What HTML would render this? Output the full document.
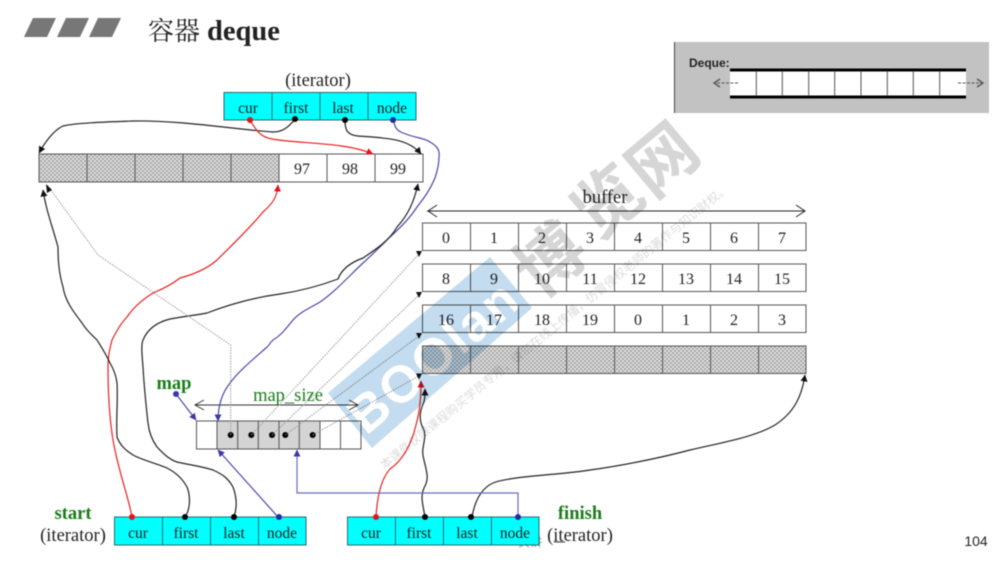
<!DOCTYPE html>
<html><head><meta charset="utf-8"><style>
html,body{margin:0;padding:0;background:#fff;width:1002px;height:563px;overflow:hidden}
svg{display:block;filter:blur(.5px)}
text{font-family:"Liberation Serif","Noto Serif CJK SC",serif;font-size:16px;fill:#222;text-anchor:middle}
.c{font-size:15.5px}
.t{font-size:18.5px}
.g{fill:#1a7d1a;font-weight:bold;font-size:18.5px}
.k{fill:none;stroke:#222;stroke-width:1.2}
.r{fill:none;stroke:#e82020;stroke-width:1.2}
.b{fill:none;stroke:#4a48a8;stroke-width:1.2}
.d{fill:none;stroke:#999;stroke-width:1;stroke-dasharray:1.5 1.2}
</style></head><body>
<svg width="1002" height="563" viewBox="0 0 1002 563" xmlns="http://www.w3.org/2000/svg">
<defs>
<pattern id="h" width="4" height="4" patternUnits="userSpaceOnUse">
<rect width="4" height="4" fill="#e2e2e2"/><rect width="2" height="2" fill="#a6a6a6"/><rect x="2" y="2" width="2" height="2" fill="#a6a6a6"/>
</pattern>
<marker id="ak" markerWidth="8" markerHeight="8" refX="6.5" refY="3.5" orient="auto" markerUnits="userSpaceOnUse"><path d="M0 0L7 3.5L0 7z" fill="#111"/></marker>
<marker id="ar" markerWidth="8" markerHeight="8" refX="6.5" refY="3.5" orient="auto" markerUnits="userSpaceOnUse"><path d="M0 0L7 3.5L0 7z" fill="#e81020"/></marker>
<marker id="ab" markerWidth="8" markerHeight="8" refX="6.5" refY="3.5" orient="auto" markerUnits="userSpaceOnUse"><path d="M0 0L7 3.5L0 7z" fill="#3a38a8"/></marker>
</defs>

<!-- header -->
<g fill="#777"><path d="M24 37L33 18H56L47 37z"/><path d="M57 37L66 18H89L80 37z"/><path d="M89 37L98 18H121L112 37z"/></g>
<text x="148" y="40" style="text-anchor:start;font-size:26px;fill:#222;font-family:'Noto Serif CJK SC',serif">容器</text>
<text x="207" y="40" style="text-anchor:start;font-size:28.5px;font-weight:bold;fill:#222">deque</text>

<!-- deque thumbnail -->
<rect x="674" y="42" width="315" height="71" fill="#c2c2c2"/>
<rect x="674" y="42" width="1" height="71" fill="#444"/>
<text x="689" y="67" style="text-anchor:start;font-family:'Liberation Sans',sans-serif;font-size:12px;font-weight:bold;fill:#222">Deque:</text>
<rect x="730" y="71" width="236" height="26" fill="#fff"/>
<path d="M730 70H966M730 97H966" stroke="#000" stroke-width="3"/>
<path d="M756.3 71V96M782.3 71V96M808.7 71V96M834.7 71V96M861 71V96M887.3 71V96M913.3 71V96M939.7 71V96" stroke="#555" stroke-width="1"/>
<path d="M738 83H715M958 83H982" stroke="#555" stroke-width="1" stroke-dasharray="3 1.5" fill="none"/>
<path d="M720 79L714 83L720 87M977 79L983 83L977 87" stroke="#555" stroke-width="1.4" fill="none"/>

<!-- top iterator -->
<text class="t" x="318" y="86">(iterator)</text>
<g stroke="#2a6a70" stroke-width="1"><rect x="224" y="92.500" width="192" height="27.500" fill="#0ff"/><path d="M272 92.500V120M320 92.500V120M368 92.500V120"/></g>
<text class="c" x="248" y="113">cur</text><text class="c" x="296" y="113">first</text><text class="c" x="343" y="113">last</text><text class="c" x="392" y="113">node</text>

<!-- top buffer -->
<rect x="39" y="154" width="240" height="28" fill="url(#h)"/>
<rect x="39" y="154" width="384" height="28" fill="none" stroke="#555" stroke-width="1"/>
<path d="M87 154V182M135 154V182M183 154V182M231 154V182M279 154V182M327 154V182M375 154V182" stroke="#555" stroke-width="1"/>
<text x="302" y="174">97</text><text x="350" y="174">98</text><text x="398" y="174">99</text>

<!-- buffer -->
<text class="t" x="605" y="203">buffer</text>
<path d="M427 211H805" stroke="#222" stroke-width="1"/>
<path d="M437 205L428 211L437 217M796 205L805 211L796 217" stroke="#222" fill="none"/>
<g stroke="#555" stroke-width="1" fill="#fff">
<rect x="422.500" y="223" width="383.500" height="27.500"/>
<rect x="422.500" y="264" width="383.500" height="27.500"/>
<rect x="422.500" y="305" width="383.500" height="27.500"/>
<rect x="422.500" y="346" width="383.500" height="27.500" fill="url(#h)"/>
<path d="M470.500 223V250.500M518.500 223V250.500M566.500 223V250.500M614.500 223V250.500M662.500 223V250.500M710.500 223V250.500M758.500 223V250.500"/>
<path d="M470.500 264V291.500M518.500 264V291.500M566.500 264V291.500M614.500 264V291.500M662.500 264V291.500M710.500 264V291.500M758.500 264V291.500"/>
<path d="M470.500 305V332.500M518.500 305V332.500M566.500 305V332.500M614.500 305V332.500M662.500 305V332.500M710.500 305V332.500M758.500 305V332.500"/>
<path d="M470.500 346V373.500M518.500 346V373.500M566.500 346V373.500M614.500 346V373.500M662.500 346V373.500M710.500 346V373.500M758.500 346V373.500"/>
</g>
<g>
<text x="446" y="243">0</text><text x="494" y="243">1</text><text x="542" y="243">2</text><text x="590" y="243">3</text><text x="638" y="243">4</text><text x="686" y="243">5</text><text x="734" y="243">6</text><text x="782" y="243">7</text>
<text x="446" y="284">8</text><text x="494" y="284">9</text><text x="542" y="284">10</text><text x="590" y="284">11</text><text x="638" y="284">12</text><text x="686" y="284">13</text><text x="734" y="284">14</text><text x="782" y="284">15</text>
<text x="446" y="325">16</text><text x="494" y="325">17</text><text x="542" y="325">18</text><text x="590" y="325">19</text><text x="638" y="325">0</text><text x="686" y="325">1</text><text x="734" y="325">2</text><text x="782" y="325">3</text>
</g>

<!-- map -->
<text class="g" x="174" y="389">map</text>
<text class="t" x="288" y="401" style="fill:#1a7d1a">map_size</text>
<path d="M195 405H358" stroke="#333" stroke-width="1"/>
<path d="M204 400L195 405L204 410M349 400L358 405L349 410" stroke="#333" fill="none"/>
<rect x="217" y="421" width="103" height="28" fill="#d4d4d4"/>
<rect x="196.500" y="421" width="164.500" height="28" fill="none" stroke="#555"/>
<path d="M217 421V449M237.700 421V449M258.300 421V449M279 421V449M299.300 421V449M320 421V449M340.500 421V449" stroke="#555"/>
<g fill="#000"><circle cx="230.700" cy="435" r="3"/><circle cx="251.300" cy="435" r="3"/><circle cx="272" cy="435" r="3"/><circle cx="285.300" cy="435" r="3"/><circle cx="312.700" cy="435" r="3"/></g>

<!-- start -->
<text class="g" x="73" y="519">start</text>
<text class="t" x="73" y="541">(iterator)</text>
<g stroke="#2a6a70" stroke-width="1"><rect x="114.500" y="517" width="191.500" height="28" fill="#0ff"/><path d="M162.500 517V545M210.500 517V545M258.500 517V545"/></g>
<text class="c" x="138" y="538">cur</text><text class="c" x="186" y="538">first</text><text class="c" x="234" y="538">last</text><text class="c" x="282" y="538">node</text>

<!-- finish -->
<text x="530" y="546" style="font-size:12px;fill:#888;font-family:'Noto Sans CJK SC',sans-serif">页讲</text>
<text class="g" x="580" y="519">finish</text>
<text class="t" x="580" y="541">(iterator)</text>
<path d="M554 542H565" stroke="#333" stroke-width="1"/>
<g stroke="#2a6a70" stroke-width="1"><rect x="347.500" y="517" width="191.500" height="28" fill="#0ff"/><path d="M395.500 517V545M443.500 517V545M491.500 517V545"/></g>
<text class="c" x="371" y="538">cur</text><text class="c" x="419" y="538">first</text><text class="c" x="467" y="538">last</text><text class="c" x="515" y="538">node</text>

<text x="976" y="546" style="font-family:'Liberation Sans',sans-serif;font-size:14px;fill:#222">104</text>

<!-- connectors -->
<path class="k" marker-end="url(#ak)" d="M295 119C288 128 282 132 273 132C240 130 180 120 133 121C105 122 75 123 63 126C54 130 45 142 39 153"/>
<path class="r" marker-end="url(#ar)" d="M250 120C256 130 260 137 272 139C300 144 345 142 373 154"/>
<path class="k" marker-end="url(#ak)" d="M345 120C345 130 347 135 358 136C385 138 408 138 421 154"/>
<path class="b" marker-end="url(#ab)" d="M394 120C394 128 398 131 403 133C415 138 425 138 430 142C437 146 440 150 439 157C439 165 437 172 435 178C430 190 424 198 417 207C410 218 400 228 390 237C380 247 372 255 363 263C350 275 335 292 320 302C310 308 300 312 293 320C285 330 280 336 273 340C268 345 268 347 267 347C250 362 238 372 230 383C222 393 218 405 218 421"/>
<path class="k" marker-end="url(#ak)" d="M234 517C238 505 236 495 233 487C228 478 222 474 213 470C200 466 190 465 177 462C168 459 162 452 157 447C152 440 149 432 148 423C146 405 144 385 143 367C142 355 141 345 143 340C148 328 158 322 170 319C185 316 198 315 207 313C225 306 250 298 280 294C300 291 322 285 338 279C342 268 352 262 363 258C375 250 390 240 397 227C408 215 414 202 418 184"/>
<path class="r" marker-end="url(#ar)" d="M132 517C128 495 118 470 113 440C109 415 108 390 108 367C108 355 110 348 112 340C118 328 122 322 127 317C135 305 145 298 153 293C165 288 175 282 180 278C195 274 208 268 217 260C232 245 250 228 263 212C272 204 277 198 278 185"/>
<path class="k" marker-end="url(#ak)" d="M185 517C190 510 191 497 187 487C182 478 175 472 167 468C155 463 142 460 133 455C125 450 120 445 117 437C116 420 118 400 117 383C116 375 113 368 110 363C105 352 100 345 97 340C92 335 86 330 82 323C72 310 65 300 63 287C58 270 58 255 58 247C52 225 46 210 43 190"/>
<path class="r" marker-end="url(#ar)" d="M376 517C377 500 380 480 390 469C400 462 410 450 416 425C420 410 421 398 421 381"/>
<path class="k" marker-end="url(#ak)" d="M425 517C423 505 420 497 424 488C430 478 426 470 424 460C420 448 427 440 424 430C418 420 420 410 424 402C425 398 425 394 425 389"/>
<path class="k" marker-end="url(#ak)" d="M472 517C475 500 482 488 493 483C510 476 560 475 590 470C620 466 660 458 690 450C720 443 755 437 775 425C795 412 802 395 805 375"/>
<path class="d" d="M230.700 435V345L98 255L48 186"/>
<path class="d" d="M251.300 435L419 254"/>
<path class="d" d="M272 435L419 295"/>
<path class="d" d="M285.300 435L419 336"/>
<path class="d" d="M312.700 435L419 376"/>
<g fill="#111">
<path d="M416 251H422L419 257z"/><path d="M416 292H422L419 298z"/><path d="M416 333H422L419 339z"/><path d="M416 373.500H422L419 379.500z"/>
<path d="M46 184L52 190L47 193z"/>
</g>
<path class="b" marker-end="url(#ab)" d="M176 394L196 420"/>
<path class="b" marker-end="url(#ab)" d="M278 517L218 450"/>
<path fill="none" stroke="#6d6bb8" stroke-width="1.2" marker-end="url(#ab)" d="M518 517V493H297V450"/>
<g>
<circle cx="250" cy="120" r="3" fill="#e81020"/><circle cx="295" cy="119" r="3" fill="#000"/><circle cx="345" cy="120" r="3" fill="#000"/><circle cx="393" cy="120" r="3" fill="#2a2aa0"/>
<circle cx="176" cy="394" r="3" fill="#3a38a8"/>
<circle cx="132" cy="517" r="3" fill="#e81020"/><circle cx="185" cy="517" r="3" fill="#000"/><circle cx="234" cy="517" r="3" fill="#000"/><circle cx="279" cy="517" r="3" fill="#2a2aa0"/>
<circle cx="376" cy="517" r="3" fill="#e81020"/><circle cx="425" cy="517" r="3" fill="#000"/><circle cx="471" cy="517" r="3" fill="#000"/><circle cx="518" cy="517" r="3" fill="#2a2aa0"/>
</g>

<!-- watermark -->
<g style="mix-blend-mode:multiply">
<path d="M328 393L490 257L532 308L372 448z" fill="#c3dcef"/>
<text transform="translate(445 370) rotate(-40)" style="font-family:'Liberation Sans',sans-serif;font-size:52px;font-weight:bold;fill:#fff;letter-spacing:2px">BOOlan</text>
<g style="font-family:'Noto Sans CJK SC',sans-serif;font-size:68px;font-weight:bold;fill:#d6d6d6">
<text transform="translate(566 278) rotate(-40)" style="font:inherit;fill:inherit">博</text>
<text transform="translate(623 220) rotate(-40)" style="font:inherit;fill:inherit">览</text>
<text transform="translate(678 178) rotate(-40)" style="font:inherit;fill:inherit">网</text>
</g>
<text transform="translate(557 330) rotate(-39)" style="font-family:'Noto Sans CJK SC',sans-serif;font-size:12px;fill:#dcdcdc">本课件仅限课程购买学员专用，请勿在线上传播，仿冒侵权老师的著作与知识财权。</text>
</g>
</svg>
</body></html>
